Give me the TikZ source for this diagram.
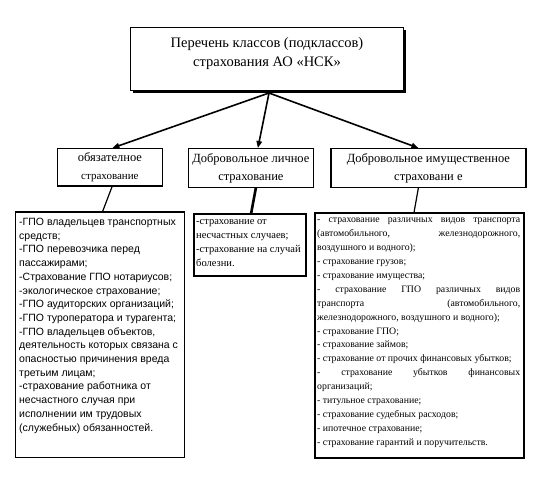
\documentclass[tikz,border=0pt]{standalone}
\usepackage{fontspec}
\setmainfont{Liberation Serif}
\newfontfamily\listfont{Liberation Sans}
\usetikzlibrary{positioning,arrows.meta,shadows}
\setlength\parindent{0pt}

\begin{document}
\begin{tikzpicture}[x=1pt,y=-1pt,
    box/.style={draw, line width=0.8pt, inner sep=0pt, anchor=north west, fill=white},
    head/.style={font=\fontsize{12.5}{18}\selectfont, align=center},
    list/.style={inner sep=0pt, anchor=north west},
    link/.style={line width=1.6pt, -{Triangle[length=7pt,width=5.5pt]}},
    tie/.style={line width=1.2pt}]

    \useasboundingbox (0,0) rectangle (539,478);

    % Title
    \node[box, minimum width=273pt, minimum height=63pt,
          drop shadow={shadow xshift=2.5pt, shadow yshift=-2.5pt, fill=black, opacity=1}]
          (top) at (130,27) {};
    \node[font=\fontsize{14.5}{19}\selectfont, align=center] (title) at (267,54)
          {Перечень классов (подклассов)\\страхования АО «НСК»};
    \coordinate (hub) at (269,93);

    % Groups
    \node[box, head, minimum width=105pt, minimum height=37pt] (mand) at (57,148)
          {обязателное\\{\fontsize{11}{14}\selectfont страхование}};
    \node[box, head, minimum width=125pt, minimum height=39pt] (vol) at (188,148)
          {Добровольное личное\\страхование};
    \node[box, head, minimum width=194pt, minimum height=39pt] (prop) at (331,148)
          {Добровольное имущественное\\страховани е};
    \draw[line width=2.4pt] (mand.south west) -- (mand.south east);
    \draw[line width=2.4pt] (prop.south west) -- (prop.north west);
    \draw[line width=2.4pt] (prop.south east) -- (prop.north east);

    \draw[link] (hub) -- ([xshift=2.5pt]mand.north);
    \draw[link] (hub) -- ([xshift=7pt]vol.north);
    \draw[link] (hub) -- ([xshift=-10pt]prop.north);

    % Lists
    \node[box, minimum width=169pt, minimum height=245pt] (mandbox) at (15,212) {};
    \draw[line width=2.4pt] (mandbox.north west) -- (mandbox.north east);
    \node[list, font=\listfont\fontsize{10.5}{13.7}\selectfont, align=left] (mandlist) at (19,218)
          {-ГПО владельцев транспортных\\средств;\\-ГПО перевозчика перед\\пассажирами;\\
           -Страхование ГПО нотариусов;\\-экологическое страхование;\\
           -ГПО аудиторских организаций;\\-ГПО туроператора и турагента;\\
           -ГПО владельцев объектов,\\деятельность которых связана с\\
           опасностью причинения вреда\\третьим лицам;\\-страхование работника от\\
           несчастного случая при\\исполнении им трудовых\\(служебных) обязанностей.};

    \node[box, line width=2.4pt, minimum width=112pt, minimum height=62pt] (volbox) at (193,213) {};
    \node[list, font=\fontsize{10.5}{14}\selectfont, align=left] (vollist) at (196,219)
          {-страхование от\\несчастных случаев;\\-страхование на случай\\болезни.};

    \node[box, line width=2.2pt, minimum width=209pt, minimum height=245pt] (propbox) at (314,212) {};
    \node[list, font=\fontsize{9.8}{13.9}\selectfont, text width=203pt, align=justify] (proplist) at (317,218)
          {- страхование различных видов транспорта\linebreak
           (автомобильного, железнодорожного,\linebreak
           воздушного и водного);\par
           - страхование грузов;\par
           - страхование имущества;\par
           - страхование ГПО различных видов\linebreak
           транспорта (автомобильного,\linebreak
           железнодорожного, воздушного и водного);\par
           - страхование ГПО;\par
           - страхование займов;\par
           - страхование от прочих финансовых убытков;\par
           - страхование убытков финансовых\linebreak
           организаций;\par
           - титульное страхование;\par
           - страхование судебных расходов;\par
           - ипотечное страхование;\par
           - страхование гарантий и поручительств.};

    \draw[tie] ([xshift=2.5pt]mand.south) -- ([xshift=2.5pt]mandbox.north);
    \draw[line width=2.6pt] ([xshift=5pt]vol.south) -- ([xshift=1pt]volbox.north);
    \draw[tie] ([xshift=-10pt]prop.south) -- ([xshift=-5.5pt]propbox.north);
\end{tikzpicture}
\end{document}
